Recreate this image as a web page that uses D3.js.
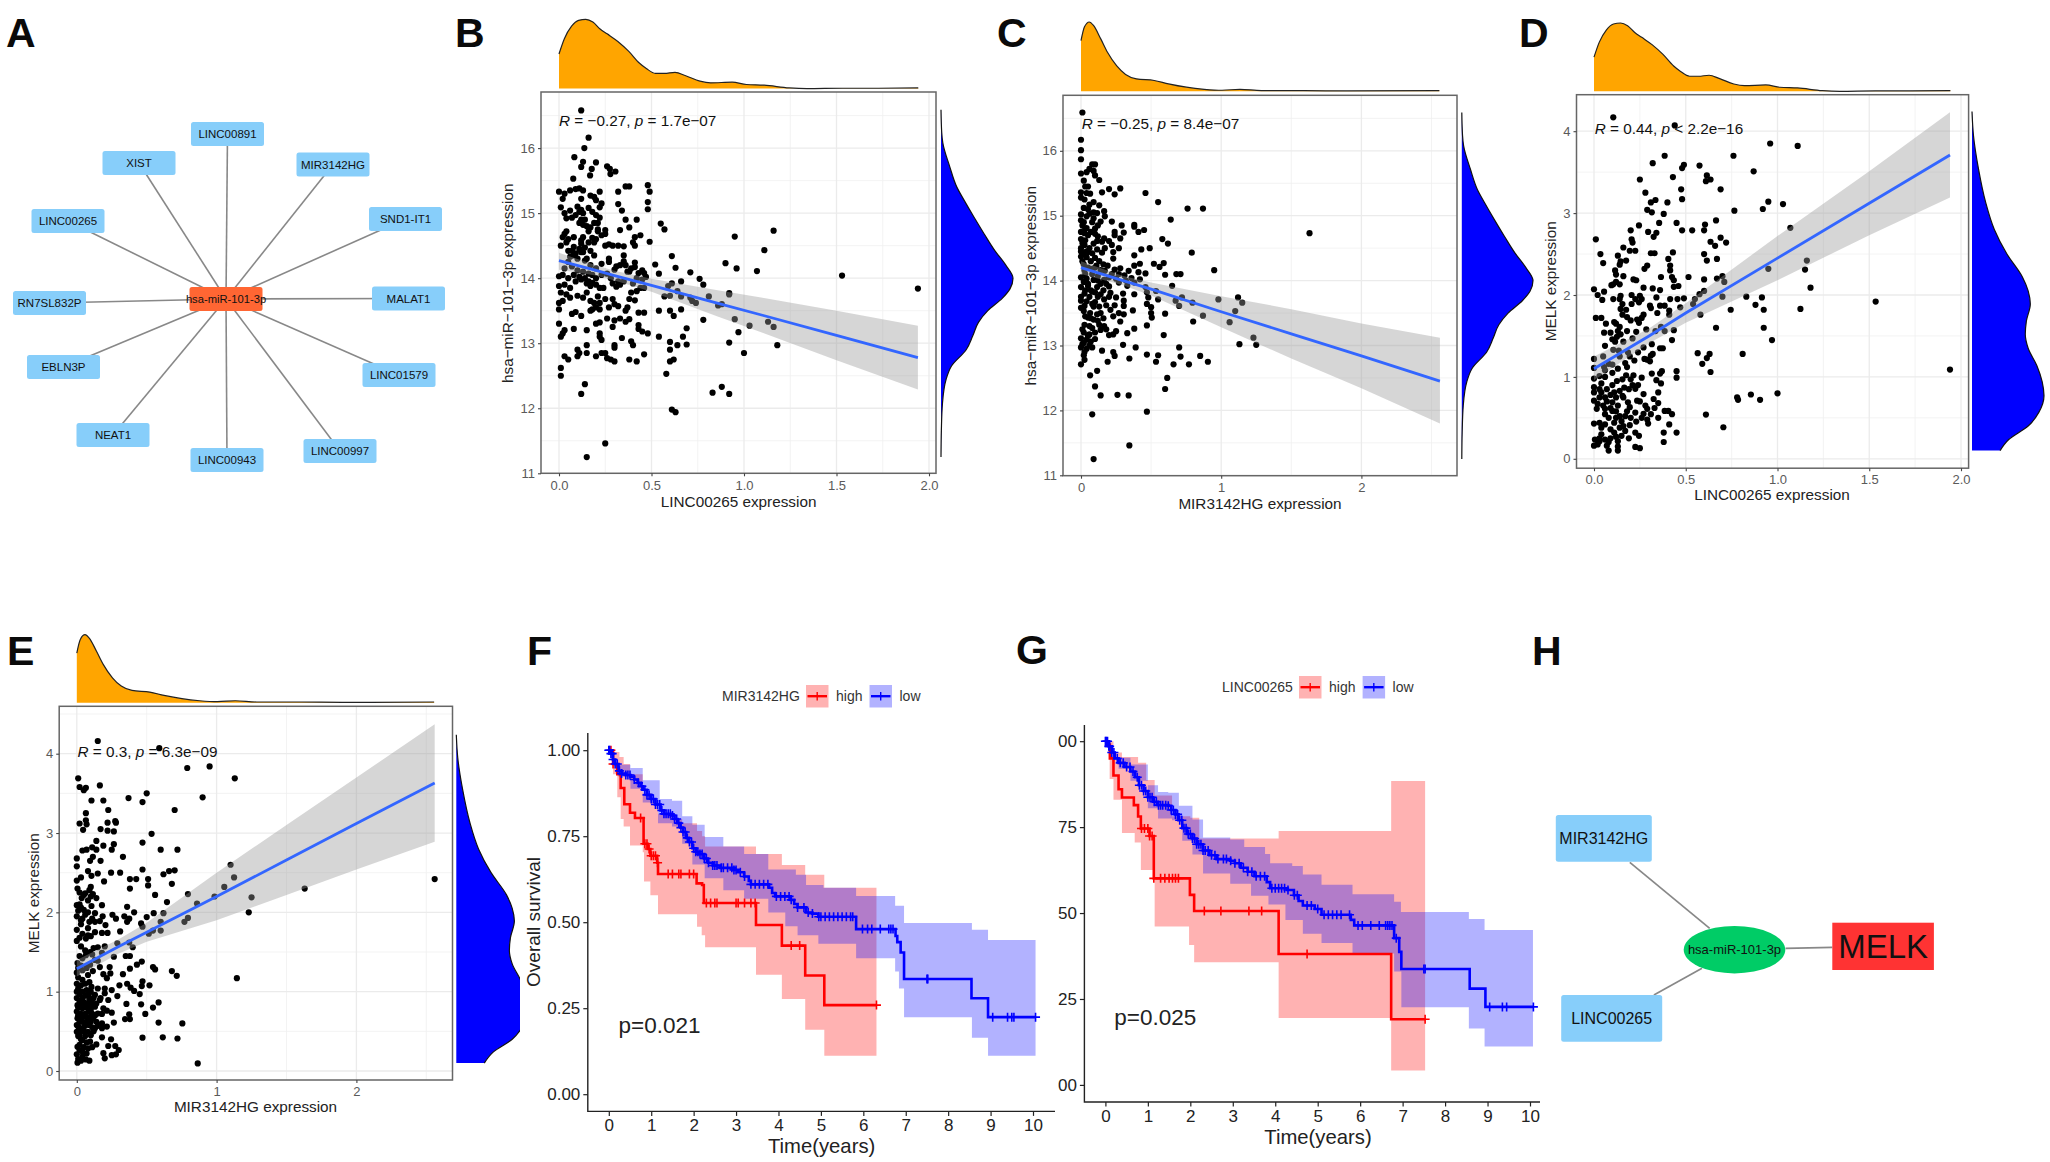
<!DOCTYPE html>
<html>
<head>
<meta charset="utf-8">
<title>hsa-miR-101-3p panels</title>
<script src="https://cdnjs.cloudflare.com/ajax/libs/d3/7.8.5/d3.min.js"></script>
<style>
	html, body { margin: 0; padding: 0; background: #fff; }
	svg { display: block; }
	text { font-family: "Liberation Sans", Arial, sans-serif; }
</style>
</head>
<body>
<script>
// scatter values, [x, y]
var pointsB = [[.12,16.58],[.16,16.16],[.137,16],[.083,15.86],[.13,15.79],[.2,15.78],[.12,15.71],[.177,15.68],[.26,15.72],[.275,15.68],[.305,15.64],[.278,15.6],[.168,15.58],[.077,15.53],[.11,15.38],[.09,15.37],[.06,15.35],[.13,15.35],[0,15.33],[.03,15.3],[.02,15.22],[.12,15.22],[.17,15.27],[.19,15.25],[.2,15.2],[.22,15.33],[.32,15.33],[.36,15.41],[.38,15.41],[.48,15.43],[.49,15.33],[.48,15.17],[.32,15.14],[.48,15.06],[.34,15.04],[.36,14.9],[.42,14.9],[.01,15.09],[.23,15.15],[.22,15.09],[.1,15.1],[.12,15.05],[.03,15],[.06,15.04],[.09,14.97],[.11,15.02],[.13,15],[.04,14.92],[.07,14.93],[.12,14.9],[.18,15.02],[.2,14.97],[.22,14.93],[.11,14.85],[.13,14.82],[.15,14.8],[.17,14.78],[.19,14.85],[.21,14.75],[.16,14.72],[.55,14.84],[.57,14.75],[.38,14.78],[.33,14.74],[.25,14.74],[.25,14.68],[.04,14.72],[.03,14.68],[.02,14.63],[.05,14.6],[.08,14.63],[.13,14.63],[.12,14.58],[.18,14.62],[.2,14.6],[.23,14.66],[.01,14.5],[.04,14.55],[.12,14.53],[.16,14.55],[.19,14.55],[.44,14.66],[.41,14.63],[.4,14.55],[.49,14.56],[.41,14.5],[.25,14.5],[.27,14.52],[.29,14.5],[.32,14.5],[.35,14.49],[.08,14.48],[.11,14.45],[.14,14.47],[.05,14.42],[.07,14.42],[.09,14.38],[.12,14.4],[.17,14.42],[.06,14.33],[.1,14.3],[.35,14.35],[.61,14.34],[.05,14.25],[.14,14.27],[.17,14.2],[.2,14.15],[.23,14.22],[.27,14.25],[.31,14.18],[.35,14.26],[.36,14.2],[.39,14.15],[.41,14.24],[.41,14.17],[.38,14.1],[.43,14.08],[.46,14.08],[.52,14.21],[.54,14.07],[.63,14.16],[.71,14.09],[.9,14.23],[.96,14.15],[1.07,14.11],[.95,14.64],[1.16,14.73],[1.11,14.43],[1.53,14.04],[1.94,13.84],[0,14.03],[.02,14.05],[.05,14],[.08,14.05],[.11,14.02],[.14,14],[.16,13.95],[.18,13.93],[.2,14],[.23,14.05],[.26,14.07],[.3,14.13],[.28,14],[.32,13.95],[.29,13.92],[.31,13.87],[.33,13.9],[.37,14.1],[.42,14],[.45,13.98],[.47,14.02],[0,13.88],[.03,13.9],[.06,13.85],[.01,13.78],[.04,13.75],[.06,13.7],[.02,13.65],[0,13.62],[.1,13.73],[.13,13.7],[.17,13.65],[.19,13.62],[.22,13.62],[.24,13.85],[.25,13.68],[.29,13.68],[.38,13.68],[.39,13.78],[.42,13.8],[.44,13.85],[.46,13.85],[.41,13.66],[0,13.52],[.18,13.52],[.2,13.55],[.22,13.52],[.27,13.55],[.3,13.6],[.32,13.57],[.36,13.5],[.37,13.55],[.43,13.47],[.46,13.47],[.07,13.45],[.09,13.48],[.12,13.42],[.26,13.38],[.3,13.35],[.33,13.38],[.36,13.33],[.38,13.37],[0,13.3],[.01,13.1],[.02,13.15],[.03,13.2],[.08,13.22],[.15,13.2],[.2,13.3],[.22,13.32],[.22,13.15],[.22,13.1],[.23,13.05],[.29,13.25],[.34,13.08],[.39,13.03],[.4,12.97],[.43,13.28],[.43,13.22],[.45,13.18],[.48,13.15],[.3,12.97],[.3,12.93],[.15,12.97],[.1,12.9],[.11,12.85],[.1,12.8],[.15,12.85],[.03,12.8],[.05,12.75],[.2,12.8],[.23,12.85],[.25,12.85],[.26,12.77],[.28,12.75],[.3,12.72],[.38,12.75],[.42,12.72],[.46,12.83],[.01,12.5],[.01,12.62],[.58,12.53],[.54,13.1],[.6,13.02],[.6,12.9],[.64,12.97],[.67,13.1],[.69,13.23],[.69,12.98],[.6,12.72],[.62,12.75],[.54,13.5],[.6,13.5],[.62,13.42],[.66,13.52],[.78,13.36],[.95,13.37],[.61,13.92],[.59,13.88],[.57,13.72],[.6,13.73],[.64,13.8],[.66,13.95],[.66,13.72],[.71,13.7],[.72,13.65],[.74,13.62],[.81,13.72],[.86,13.58],[.88,13.6],[.92,13.75],[.92,13.77],[.76,13.99],[.78,13.9],[.97,13.17],[.92,13.01],[1.03,13.27],[1.13,13.33],[1.16,13.25],[1.18,12.97],[1,12.85],[.83,12.24],[.88,12.33],[.92,12.22],[.61,11.98],[.63,11.94],[.12,12.22],[.14,12.37],[.25,11.46],[.15,11.25],[.03,14.15],[.07,14.18],[.1,14.12],[.13,14.1],[.16,14.07],[.18,14.05],[.15,13.92],[.17,13.88],[.2,13.9],[.22,13.85],[.12,13.98],[.09,13.95],[.08,14.35],[.13,14.4],[.15,14.3],[.19,14.35],[.21,14.72],[.14,14.9],[.16,15.08],[.21,14.85],[.15,13.78],[.27,14.3],[.33,14.2],[.45,14.12],[.35,13.95],[.4,13.92],[.21,13.72],[.17,13.5]];

var pointsC = [[.01,16.59],[0,16.17],[0,16.01],[0,15.87],[.08,15.79],[.1,15.79],[.06,15.72],[.04,15.67],[0,15.65],[.09,15.69],[.1,15.62],[.13,15.55],[.02,15.54],[.05,15.45],[.2,15.41],[.28,15.42],[.15,15.36],[.24,15.33],[.46,15.35],[.55,15.21],[.76,15.11],[.87,15.11],[0,15.36],[.04,15.35],[.065,15.34],[0,15.28],[.025,15.25],[.09,15.21],[.06,15.17],[.13,15.16],[.02,15.12],[.165,15.07],[0,15.02],[.06,15.03],[.115,15.04],[.04,14.99],[.09,14.96],[.17,14.99],[0,14.93],[.14,14.91],[.22,14.91],[.64,14.94],[.29,14.85],[.38,14.86],[.38,14.83],[.04,14.81],[.1,14.8],[.025,14.73],[.24,14.75],[.305,14.74],[.41,14.75],[.45,14.78],[1.63,14.73],[0,14.64],[.24,14.7],[.28,14.65],[.58,14.64],[.165,14.65],[.115,14.61],[.2,14.61],[.09,14.57],[.15,14.6],[.62,14.57],[.22,14.55],[.025,14.55],[0,14.5],[.17,14.5],[.27,14.5],[.43,14.48],[.49,14.5],[.115,14.48],[.05,14.44],[.15,14.43],[.23,14.44],[.79,14.43],[0,14.37],[.04,14.36],[.23,14.34],[.38,14.39],[.38,14.23],[.42,14.26],[.52,14.26],[.56,14.21],[.59,14.27],[.95,14.16],[.11,14.23],[.19,14.23],[.28,14.19],[.41,14.13],[.46,14.11],[.6,14.09],[.68,14.1],[.71,14.1],[.025,14.16],[.08,14.1],[.14,14.16],[.24,14.17],[.22,14.1],[.31,14.08],[.36,14.04],[.42,14.02],[0,14.05],[.04,14.03],[.09,14.01],[.165,14.01],[.27,13.97],[.38,13.97],[0,13.9],[.05,13.92],[.115,13.9],[.2,13.91],[.33,13.92],[.46,13.9],[.65,13.92],[.025,13.8],[.08,13.83],[.14,13.79],[.21,13.81],[.38,13.79],[.47,13.82],[.535,13.84],[.165,13.71],[0,13.69],[.25,13.74],[.305,13.69],[.48,13.74],[.55,13.71],[.72,13.74],[.675,13.69],[.98,13.71],[1.12,13.74],[1.15,13.66],[.795,13.66],[.7,13.61],[.025,13.61],[.08,13.64],[.13,13.6],[.305,13.61],[.47,13.64],[.5,13.59],[1.1,13.53],[.02,13.53],[.065,13.5],[.115,13.48],[.27,13.5],[.37,13.54],[.5,13.5],[.6,13.49],[.87,13.46],[.05,13.43],[.23,13.45],[.305,13.48],[.505,13.43],[.28,13.37],[.09,13.4],[1.06,13.36],[.8,13.37],[.025,13.32],[.165,13.3],[.47,13.31],[.08,13.27],[.14,13.24],[.38,13.26],[.33,13.19],[.25,13.22],[.59,13.16],[.2,13.16],[.23,13.17],[0,13.11],[.04,13.09],[1.23,13.12],[.02,13.04],[.07,13.06],[.3,13.01],[1.13,13.02],[1.25,13.01],[0,12.97],[.08,12.97],[.39,12.97],[.7,12.97],[.15,12.92],[.025,12.9],[.23,12.9],[.47,12.86],[.55,12.85],[.24,12.84],[.345,12.8],[.71,12.83],[.85,12.84],[.025,12.78],[.19,12.75],[.535,12.75],[.905,12.75],[0,12.71],[.66,12.71],[.77,12.71],[.065,12.54],[.115,12.61],[.615,12.5],[.6,12.33],[.1,12.37],[.14,12.23],[.26,12.24],[.34,12.23],[.08,11.94],[.47,11.98],[.345,11.46],[.09,11.25],[.02,14.9],[.05,14.7],[0,14.75],[.03,14.62],[.06,14.5],[0,14.45],[.07,14.3],[.02,14.25],[.1,14.2],[.03,14.1],[.12,14.07],[.05,13.95],[.18,13.95],[.02,13.98],[.07,13.85],[.12,13.75],[0,13.75],[.04,13.68],[.09,13.6],[0,13.58],[.03,13.45],[.06,13.3],[.01,13.25],[.1,13.2],[.13,13.32],[.05,13.15],[.01,14.85],[.03,14.8],[.07,14.75],[.1,14.72],[.12,14.68],[.01,14.58],[.04,14.45],[.08,14.42],[.02,14.42],[.1,14.35],[.13,14.3],[.16,14.25],[.01,14.3],[.05,14.2],[.08,14.18],[.17,14.15],[.2,14.05],[.12,14],[.14,13.95],[.25,14.03],[.03,13.85],[.1,13.82],[.16,13.85],[.2,13.75],[.06,13.75],[.1,13.67],[.18,13.62],[.14,13.5],[.07,13.42],[.12,13.38],[.16,13.42],[.02,13.2],[.06,13.17],[.1,13.1],[.18,13.25],[.01,13.02],[.04,12.95],[.02,12.85],[.06,13],[.21,13.55],[.24,13.62],[.3,13.8],[.32,14],[.27,14.1],[.34,14.15],[.12,14.85],[.08,14.9],[.05,15.1],[.09,15.05],[.03,15.45]];

var pointsD = [[.105,4.17],[.44,4.07],[.96,3.85],[1.11,3.82],[.385,3.7],[.76,3.7],[.32,3.61],[.49,3.59],[.48,3.55],[.575,3.58],[.87,3.51],[.43,3.44],[.25,3.41],[.615,3.46],[.635,3.41],[.61,3.39],[.475,3.29],[.69,3.29],[.28,3.25],[.48,3.17],[.335,3.16],[.31,3.13],[.4,3.13],[.95,3.14],[1.03,3.11],[.92,3.05],[.29,3.04],[.315,3.01],[.765,3.03],[.38,2.99],[.355,2.88],[.665,2.91],[.45,2.88],[.245,2.85],[.605,2.86],[1.07,2.82],[.2,2.79],[.48,2.79],[.535,2.79],[.6,2.79],[.295,2.77],[.34,2.76],[.325,2.71],[.69,2.7],[.01,2.68],[.205,2.68],[.21,2.64],[.635,2.65],[.72,2.64],[.66,2.6],[.16,2.58],[.31,2.51],[.33,2.51],[.43,2.52],[.195,2.54],[.225,2.54],[.035,2.5],[.13,2.48],[.6,2.5],[.405,2.44],[.67,2.44],[.615,2.42],[1.16,2.42],[.05,2.39],[.145,2.41],[.175,2.42],[.14,2.37],[.415,2.36],[.29,2.36],[.275,2.32],[.115,2.3],[.415,2.3],[.95,2.32],[1.15,2.31],[.12,2.25],[.16,2.23],[.515,2.22],[.365,2.22],[.425,2.22],[.7,2.23],[.67,2.2],[.215,2.19],[.23,2.18],[.6,2.19],[.71,2.16],[.435,2.18],[.12,2.16],[.095,2.12],[.105,2.13],[.14,2.13],[.435,2.1],[.46,2.11],[.27,2.09],[.32,2.08],[.36,2.06],[1.18,2.09],[0,2.07],[.055,2.04],[.6,2.05],[.575,2.01],[.02,2],[.145,1.99],[.205,2],[.25,1.99],[.34,1.97],[.7,1.98],[.83,1.98],[.915,1.97],[.105,1.95],[.045,1.94],[.14,1.95],[.225,1.95],[.26,1.95],[.415,1.95],[.455,1.95],[.49,1.96],[.55,1.95],[1.535,1.92],[.155,1.89],[.205,1.89],[.245,1.91],[.305,1.87],[.36,1.87],[.385,1.87],[.47,1.85],[.54,1.89],[.88,1.88],[.175,1.82],[.145,1.83],[.31,1.84],[.41,1.81],[.745,1.82],[.925,1.82],[1.125,1.83],[.155,1.76],[.41,1.76],[.58,1.76],[.18,1.73],[.345,1.78],[.27,1.76],[.01,1.72],[.04,1.72],[.2,1.69],[.235,1.7],[.26,1.72],[.245,1.66],[.11,1.67],[.12,1.65],[.065,1.65],[.665,1.6],[.925,1.6],[.14,1.61],[.365,1.61],[.13,1.56],[.18,1.56],[.285,1.58],[.335,1.56],[.385,1.56],[.435,1.57],[.055,1.54],[.09,1.54],[.145,1.52],[.23,1.55],[.125,1.49],[.21,1.47],[.1,1.46],[.115,1.43],[.16,1.43],[.425,1.45],[.315,1.4],[.97,1.45],[.06,1.38],[.27,1.36],[.36,1.35],[.375,1.35],[.105,1.33],[.135,1.32],[.565,1.29],[.81,1.28],[.185,1.3],[.32,1.28],[.63,1.28],[.05,1.25],[.14,1.25],[.195,1.25],[.31,1.26],[.615,1.23],[0,1.22],[.275,1.22],[.29,1.21],[.305,1.19],[.08,1.16],[.17,1.17],[.59,1.16],[0,1.11],[.055,1.12],[.18,1.12],[1.94,1.09],[.45,1.07],[.37,1.07],[.06,1.08],[.635,1.06],[.315,1.04],[.36,1.04],[.175,1.02],[.215,1.02],[.03,1.01],[.45,.99],[0,.98],[.06,1],[.26,.99],[.155,.97],[.2,.97],[.34,.96],[.125,.95],[.365,.92],[.04,.92],[0,.875],[.1,.9],[.225,.855],[.165,.87],[.14,.83],[0,.81],[.04,.81],[.11,.81],[.35,.81],[.27,.79],[1,.8],[.855,.785],[.03,.75],[.155,.77],[.78,.75],[.785,.72],[.905,.72],[0,.71],[.325,.73],[.07,.7],[.1,.69],[.185,.69],[.235,.71],[.13,.65],[.28,.65],[.015,.61],[.06,.61],[.195,.63],[.29,.61],[.1,.585],[.14,.52],[.225,.565],[.385,.585],[.405,.585],[.425,.545],[.61,.54],[.06,.545],[.31,.545],[.26,.5],[.29,.48],[.35,.5],[.17,.52],[.15,.46],[.23,.455],[0,.43],[.03,.44],[.11,.44],[.295,.43],[.41,.42],[.195,.41],[.04,.38],[.09,.36],[.14,.38],[.705,.385],[.17,.34],[.11,.32],[.38,.32],[.45,.32],[.225,.32],[.04,.3],[.15,.28],[.245,.28],[.005,.235],[.06,.235],[.03,.215],[.13,.215],[.38,.205],[.08,.205],[0,.16],[.02,.175],[.225,.145],[.25,.13],[.13,.15],[.08,.1],[.13,.1],[.03,.85],[.07,.85],[.09,.78],[.06,.75],[.12,.75],[.16,.75],[.02,.67],[.05,.65],[.09,.62],[.12,.58],[.18,.58],[.08,.5],[.12,.5],[.2,.5],[.06,.42],[.16,.4],[.03,.25],[.09,.25],[.12,.27],[.19,.25],[.07,.16],[.1,1.05],[.13,1.1],[.21,.9],[.19,.85],[.24,.9],[.25,.7],[.27,.55],[.33,.62],[.35,.68],[.22,1.2],[.24,1.3],[.1,1.15]];

var pointsE = [[.15,4.16],[.59,4.07],[.79,3.82],[.95,3.84],[1.13,3.69],[.01,3.69],[.02,3.58],[.065,3.57],[.05,3.54],[.165,3.6],[.5,3.5],[.37,3.44],[.47,3.39],[.9,3.45],[.105,3.41],[.19,3.41],[.225,3.29],[.7,3.29],[.065,3.25],[.065,3.16],[.275,3.15],[.02,3.12],[.07,3.11],[.22,3.13],[.28,3.13],[.045,3.04],[.17,3.05],[.22,3.03],[.265,3.02],[.535,2.99],[.14,2.9],[.47,2.88],[.19,2.84],[.265,2.86],[.11,2.82],[.04,2.78],[.07,2.79],[.25,2.79],[.14,2.79],[.6,2.79],[.72,2.79],[.33,2.7],[0,2.68],[.115,2.7],[.095,2.65],[.17,2.65],[1.1,2.6],[0,2.58],[.08,2.52],[.47,2.54],[.7,2.53],[.66,2.52],[.15,2.49],[.245,2.5],[.31,2.5],[.62,2.48],[.105,2.46],[.03,2.44],[1.125,2.44],[2.56,2.42],[.38,2.42],[.425,2.42],[.51,2.42],[0,2.4],[.195,2.39],[.68,2.36],[.51,2.34],[.38,2.3],[1.055,2.32],[1.63,2.3],[.1,2.32],[.005,2.3],[.06,2.24],[.115,2.23],[.56,2.22],[.795,2.23],[.985,2.2],[1.25,2.19],[.035,2.18],[.14,2.18],[.08,2.15],[.645,2.13],[.86,2.11],[.18,2.09],[0,2.09],[.03,2.06],[.105,2.08],[.36,2.07],[.41,2],[1.23,2],[.01,2.02],[.55,1.99],[.62,1.99],[.06,1.97],[.13,1.99],[.255,1.97],[.34,1.95],[.5,1.94],[.185,1.95],[0,1.95],[.04,1.92],[.28,1.92],[.375,1.92],[.795,1.93],[.165,1.89],[.09,1.88],[.36,1.88],[.46,1.86],[.77,1.88],[.6,1.88],[.205,1.84],[.03,1.85],[.47,1.82],[0,1.78],[.31,1.76],[.545,1.77],[.6,1.77],[.18,1.74],[.22,1.74],[.515,1.73],[.04,1.73],[.08,1.71],[0,1.64],[.065,1.67],[.29,1.61],[.375,1.62],[.03,1.57],[.15,1.56],[.2,1.57],[.4,1.56],[.095,1.5],[.18,1.49],[.35,1.45],[.38,1.45],[.065,1.46],[.265,1.44],[.04,1.42],[.15,1.39],[.465,1.38],[.43,1.34],[.005,1.36],[.095,1.34],[.235,1.31],[.38,1.29],[.545,1.31],[.56,1.28],[.68,1.26],[.165,1.31],[0,1.24],[.04,1.27],[.115,1.26],[.24,1.23],[.33,1.22],[.715,1.2],[.08,1.21],[.19,1.22],[.215,1.17],[1.145,1.17],[.04,1.15],[0,1.1],[.36,1.1],[.305,1.08],[.47,1.13],[.52,1.08],[.465,1.07],[.385,1.05],[.105,1.06],[.15,1.04],[.2,1.04],[.41,1.01],[0,1],[.04,1],[.25,1.02],[.45,.97],[.085,.96],[.13,.96],[.29,.945],[0,.92],[.04,.92],[.165,.895],[.225,.895],[.585,.865],[.105,.875],[.005,.83],[.065,.85],[.355,.845],[.46,.84],[.545,.8],[.13,.81],[.19,.79],[.04,.79],[0,.75],[.085,.75],[.215,.76],[.25,.735],[.15,.725],[.375,.715],[.49,.72],[.005,.665],[.065,.685],[.115,.665],[.345,.655],[.38,.655],[.04,.62],[.18,.6],[.265,.61],[.585,.61],[.755,.6],[0,.58],[.09,.58],[.215,.56],[.04,.54],[.13,.54],[0,.495],[.08,.495],[.18,.54],[.02,.455],[.18,.425],[.245,.4],[.47,.42],[.615,.425],[.72,.41],[.04,.39],[.095,.37],[.14,.335],[.225,.315],[.275,.315],[.3,.265],[.005,.305],[.08,.285],[0,.21],[.04,.245],[.19,.225],[.25,.2],[.28,.21],[.04,.18],[.2,.16],[.065,.145],[.09,.13],[.005,.105],[.865,.095],[.01,1.18],[.03,1.08],[.06,1.1],[.09,1.12],[.01,1.04],[.07,1.02],[.1,1],[.02,.97],[.06,.95],[.09,.9],[.12,.92],[.02,.88],[.05,.87],[.08,.83],[.11,.83],[.14,.85],[.01,.8],[.03,.82],[.07,.8],[.1,.77],[.03,.72],[.06,.72],[.11,.72],[.01,.7],[.04,.68],[.09,.68],[.13,.7],[.02,.62],[.07,.62],[.1,.62],[.14,.62],[.01,.56],[.06,.57],[.11,.55],[.15,.57],[.02,.51],[.05,.5],[.12,.5],[.01,.44],[.06,.44],[.1,.45],[.03,.4],[.07,.36],[.02,.33],[.05,.3],[.11,.3],[.02,.26],[.07,.22],[.01,.15],[.03,.13],[.2,.98],[.17,.92],[.18,.72],[.01,1.3],[.03,1.33],[.07,1.3],[.13,1.4],[.11,1.47],[.02,1.45],[.06,1.52],[.12,1.55],[.02,1.68],[.1,1.7],[.13,1.75],[.03,1.9],[.08,1.8],[.11,1.92],[.13,1.88],[.05,2.03],[.02,2.1],[.08,2],[.1,2.2],[.02,2.25],[.05,2.22],[.09,2.28]];

// fitted line and its band: x, fit, upper, lower
var fitXB = [0, .2, .3, .5, .85, 1.1, 1.5, 1.94];
var fitB = [14.27, 14.12, 14.04, 13.89, 13.62, 13.43, 13.12, 12.78];
var fitUpB = [14.39, 14.2, 14.115, 13.99, 13.82, 13.7, 13.5, 13.27];
var fitLoB = [14.13, 14.04, 13.965, 13.79, 13.42, 13.16, 12.74, 12.29];
var fitXC = [0, .3, .5, 1, 1.5, 2, 2.56];
var fitC = [14.2, 14, 13.87, 13.52, 13.18, 12.84, 12.45];
var fitUpC = [14.3, 14.07, 13.97, 13.76, 13.56, 13.34, 13.12];
var fitLoC = [14.1, 13.93, 13.77, 13.28, 12.8, 12.34, 11.8];
var fitXD = [0, .3, .5, 1, 1.5, 1.94];
var fitD = [1.1, 1.5, 1.78, 2.45, 3.12, 3.71];
var fitUpD = [1.25, 1.59, 1.9, 2.72, 3.51, 4.23];
var fitLoD = [.96, 1.41, 1.66, 2.18, 2.73, 3.19];
var fitXE = [0, .3, .5, 1, 1.5, 2, 2.56];
var fitE = [1.29, 1.57, 1.75, 2.2, 2.66, 3.12, 3.63];
var fitUpE = [1.4, 1.66, 1.87, 2.5, 3.1, 3.7, 4.37];
var fitLoE = [1.19, 1.48, 1.63, 1.9, 2.22, 2.54, 2.89];

// marginal densities, scaled so the peak is 1
var densLincX = [0, .029, .068, .106, .145, .183, .222, .26, .318, .376, .434, .472, .521, .569, .627, .685, .762, .82, .936, 1.013, 1.109, 1.244, 1.34, 1.533, 1.726, 1.942];
var densLinc = [.5, .72, .9, .985, 1, .96, .86, .79, .68, .54, .37, .29, .22, .22, .235, .185, .107, .083, .093, .059, .049, .01, 0, .005, .005, .01];
var densMirX = [0, .025, .059, .089, .14, .19, .255, .318, .395, .522, .624, .752, .879, 1.006, 1.134, 1.287, 1.59, 1.9, 2.556];
var densMir = [.73, .93, 1, .95, .76, .56, .366, .244, .18, .156, .107, .059, .029, .015, .029, .01, .01, .005, .01];
var densMiRY = [16.59, 16.24, 16.08, 15.72, 15.4, 15.2, 14.94, 14.68, 14.42, 14.2, 14, 13.84, 13.69, 13.5, 13.32, 13.11, 12.9, 12.65, 12.44, 12.07, 11.66, 11.25];
var densMiR = [0, .01, .025, .12, .22, .32, .457, .6, .75, .9, 1, .96, .85, .65, .52, .44, .35, .146, .07, .02, .005, 0];
var densMelkY = [4.24, 3.95, 3.54, 3.13, 2.8, 2.5, 2.22, 2.05, 1.89, 1.68, 1.52, 1.35, 1.14, .94, .77, .57, .4, .235, .1];
var densMelk = [0, .02, .09, .19, .31, .485, .7, .78, .81, .755, .74, .78, .9, .975, 1, .93, .78, .51, .39];

// survival curves, [time, survival], each value holds until the next time
var kmHighF = [[0,1],[.1,.96],[.2,.93],[.28,.89],[.365,.843],[.5,.818],[.617,.803],[.82,.728],[.92,.713],[.98,.693],[1.14,.673],[1.16,.64],[2.07,.613],[2.2,.608],[2.24,.556],[3.47,.492],[4.08,.432],[4.63,.345],[5.08,.259],[6.31,.259]];
var kmHighUpF = [[0,1],[.1,.995],[.25,.98],[.35,.96],[.5,.93],[.8,.875],[1,.85],[1.16,.815],[1.5,.8],[1.73,.788],[2.08,.765],[2.2,.75],[2.27,.72],[3.47,.698],[4.08,.666],[4.63,.638],[5.08,.6],[6.31,.6]];
var kmHighLoF = [[0,1],[.1,.93],[.2,.863],[.28,.8],[.35,.778],[.5,.723],[.8,.703],[.83,.618],[.98,.578],[1.16,.523],[2.08,.487],[2.19,.462],[2.27,.427],[3.47,.347],[4.08,.277],[4.63,.187],[5.08,.112],[6.31,.112]];
var kmLowF = [[0,1],[.05,.99],[.1,.973],[.15,.96],[.23,.94],[.3,.932],[.4,.928],[.51,.923],[.6,.915],[.68,.905],[.75,.895],[.8,.885],[.9,.87],[1,.858],[1.1,.842],[1.22,.825],[1.3,.815],[1.49,.81],[1.55,.8],[1.62,.788],[1.69,.775],[1.75,.762],[1.82,.745],[1.89,.733],[1.97,.715],[2.05,.705],[2.13,.698],[2.25,.685],[2.34,.673],[2.45,.665],[2.62,.658],[2.95,.652],[3.05,.645],[3.19,.633],[3.3,.62],[3.35,.61],[3.78,.6],[3.85,.585],[3.92,.575],[4.29,.565],[4.37,.553],[4.45,.543],[4.65,.528],[4.8,.525],[4.94,.516],[5.83,.48],[6.76,.46],[6.8,.442],[6.88,.412],[6.96,.335],[8.55,.279],[8.94,.224],[10.06,.224]];
var kmLowUpF = [[0,1],[.23,.958],[.51,.948],[.8,.913],[1.2,.858],[1.49,.853],[1.73,.808],[1.97,.783],[2.26,.748],[2.7,.72],[3.19,.698],[3.76,.653],[4.41,.638],[4.65,.608],[5.06,.6],[5.83,.576],[6.75,.548],[6.96,.498],[8.56,.478],[8.94,.448],[10.06,.448]];
var kmLowLoF = [[0,1],[.23,.923],[.51,.888],[.8,.848],[1.16,.788],[1.49,.778],[1.73,.728],[1.97,.668],[2.26,.628],[2.7,.593],[3.19,.568],[3.76,.528],[4.16,.488],[4.45,.462],[4.94,.437],[5.83,.395],[6.75,.357],[6.84,.307],[6.96,.224],[8.56,.164],[8.94,.112],[10.06,.112]];
var censorHighF = [.05, .1, .75, .85, .9, .95, 1, 1.05, 1.1, 1.15, 1.4, 1.5, 1.65, 1.7, 1.9, 2, 2.3, 2.4, 2.5, 2.55, 3, 3.05, 3.2, 3.35, 3.45, 4.3, 4.5, 6.31];
var censorLowF = [0, .02, .05, .08, .1, .15, .2, .25, .3, .4, .45, .5, .6, .7, .78, .85, .9, .95, 1, 1.05, 1.1, 1.15, 1.2, 1.25, 1.3, 1.35, 1.4, 1.45, 1.5, 1.55, 1.6, 1.65, 1.7, 1.75, 1.8, 1.85, 1.9, 1.95, 2, 2.05, 2.1, 2.15, 2.2, 2.25, 2.3, 2.35, 2.45, 2.5, 2.55, 2.65, 2.7, 2.8, 2.9, 2.95, 3, 3.1, 3.2, 3.35, 3.45, 3.55, 3.65, 3.75, 3.95, 4.05, 4.15, 4.25, 4.3, 4.45, 4.6, 4.7, 4.8, 4.95, 5, 5.1, 5.2, 5.3, 5.4, 5.5, 5.6, 5.7, 5.75, 5.98, 6.1, 6.2, 6.4, 6.6, 6.65, 6.7, 7.5, 7.52, 9.05, 9.4, 9.5, 9.55, 10.06];

var kmHighG = [[0,.99],[.105,.95],[.19,.9],[.31,.86],[.39,.836],[.67,.814],[.77,.781],[.835,.746],[1.04,.724],[1.14,.601],[1.99,.553],[2.09,.506],[4.08,.381],[6.73,.191],[7.53,.191]];
var kmHighUpG = [[0,1],[.19,.967],[.39,.954],[.77,.937],[.96,.887],[1.16,.842],[1.57,.782],[2,.777],[2.21,.717],[4.08,.739],[6.73,.884],[7.53,.884]];
var kmHighLoG = [[0,1],[.1,.89],[.19,.83],[.39,.733],[.69,.705],[.835,.625],[1.16,.461],[1.97,.407],[2.09,.357],[4.08,.195],[6.73,.042],[7.53,.042]];
var kmLowG = [[0,1],[.08,.985],[.15,.967],[.22,.95],[.31,.937],[.45,.925],[.59,.912],[.7,.895],[.79,.872],[.9,.855],[1,.837],[1.12,.824],[1.24,.814],[1.48,.812],[1.55,.8],[1.65,.787],[1.72,.77],[1.81,.747],[1.92,.73],[2.05,.717],[2.15,.7],[2.3,.682],[2.45,.668],[2.62,.657],[2.94,.652],[3.05,.645],[3.19,.632],[3.35,.62],[3.51,.607],[3.8,.59],[3.88,.572],[4.28,.567],[4.44,.552],[4.55,.535],[4.65,.522],[4.93,.512],[5.09,.495],[5.78,.48],[5.86,.464],[6.8,.427],[6.92,.387],[6.97,.337],[8.58,.28],[8.95,.227],[10.08,.227]];
var kmLowUpG = [[0,1],[.31,.952],[.59,.932],[1,.872],[1.24,.852],[1.48,.85],[1.73,.812],[2.05,.772],[2.3,.72],[2.94,.714],[3.27,.692],[3.76,.672],[3.88,.645],[4.4,.637],[4.65,.612],[5.09,.582],[5.82,.555],[6.8,.533],[6.96,.503],[8.56,.483],[8.93,.451],[10.07,.451]];
var kmLowLoG = [[0,1],[.31,.92],[.59,.885],[1,.805],[1.24,.775],[1.57,.77],[1.81,.71],[2.05,.67],[2.3,.615],[2.94,.585],[3.43,.55],[3.84,.525],[4.24,.48],[4.65,.44],[5.09,.413],[5.82,.382],[6.8,.33],[6.97,.226],[8.56,.164],[8.93,.112],[10.07,.112]];
var censorHighG = [.85, .92, 1, 1.04, 1.1, 1.14, 1.3, 1.4, 1.5, 1.58, 1.65, 1.72, 2.33, 2.72, 3.38, 3.68, 4.75, 7.53];
var censorLowG = [0, .02, .05, .08, .1, .15, .2, .28, .35, .42, .5, .58, .65, .75, .8, .85, .9, .95, 1, 1.05, 1.1, 1.15, 1.2, 1.25, 1.3, 1.35, 1.42, 1.48, 1.55, 1.6, 1.65, 1.7, 1.75, 1.8, 1.85, 1.9, 1.95, 2, 2.05, 2.1, 2.15, 2.2, 2.25, 2.3, 2.35, 2.42, 2.5, 2.58, 2.65, 2.78, 2.85, 2.95, 3.05, 3.15, 3.25, 3.35, 3.45, 3.55, 3.65, 3.75, 3.92, 4, 4.08, 4.15, 4.22, 4.3, 4.45, 4.52, 4.75, 4.85, 5, 5.15, 5.25, 5.35, 5.45, 5.55, 5.75, 5.95, 6.05, 6.25, 6.45, 6.6, 6.65, 6.7, 6.75, 6.85, 7.5, 7.53, 9.05, 9.35, 9.45, 10.08];

var xTicksLinc = [0, .5, 1, 1.5, 2];
var xTicksMir = [0, 1, 2];
var yTicksMiR = [11, 12, 13, 14, 15, 16];
var yTicksMelk = [0, 1, 2, 3, 4];
var kmTimes = [0, 1, 2, 3, 4, 5, 6, 7, 8, 9, 10];
var kmTicks = [0, .25, .5, .75, 1];
var kmLabelsF = ['0.00', '0.25', '0.50', '0.75', '1.00'];
var kmLabelsG = ['00', '25', '50', '75', '00'];

var hubName = 'hsa-miR-101-3p';
var starNames = ['LINC00891', 'XIST', 'MIR3142HG', 'SND1-IT1', 'LINC00265', 'MALAT1', 'RN7SL832P', 'LINC01579', 'EBLN3P', 'LINC00997', 'NEAT1', 'LINC00943'];

var svg = d3.select('body').append('svg').attr('width', 2050).attr('height', 1162);

// panel letters
var letters = [['A', 6, 46.7], ['B', 455, 46.7], ['C', 997, 46.7], ['D', 1519, 46.7], ['E', 7, 665], ['F', 527, 665], ['G', 1016, 664], ['H', 1532, 664.5]];
svg.selectAll('.letter').data(letters).enter().append('text')
	.attr('class', 'letter').attr('x', d => d[1]).attr('y', d => d[2])
	.attr('font-size', 41).attr('font-weight', 'bold').attr('fill', '#0a0a0a').text(d => d[0]);

// A: star network
var starPos = [[227.5, 134], [139, 163], [333, 164.5], [405.5, 219], [68, 221], [408.5, 298.5], [49.5, 303], [399, 375], [63.5, 367], [340, 451], [113, 435], [227, 460]];
var hubPos = [226, 299];
var gA = svg.append('g');
gA.selectAll('line').data(starNames).enter().append('line')
	.attr('x1', hubPos[0]).attr('y1', hubPos[1])
	.attr('x2', (d, i) => starPos[i][0]).attr('y2', (d, i) => starPos[i][1])
	.attr('stroke', '#888').attr('stroke-width', 1.6);
function netBox(g, name, cx, cy, w, h, fill, size){
	g.append('rect').attr('x', cx - w / 2).attr('y', cy - h / 2).attr('width', w).attr('height', h)
		.attr('rx', 2.5).attr('fill', fill);
	g.append('text').attr('x', cx).attr('y', cy + size * .35).attr('text-anchor', 'middle')
		.attr('font-size', size).attr('fill', '#111').text(name);
}
starNames.forEach(function(d, i){
	netBox(gA, d, starPos[i][0], starPos[i][1], 73, 24, '#87CEFA', 11.5);
});
netBox(gA, hubName, hubPos[0], hubPos[1], 73, 24, '#FF6633', 11.2);

// B-E: scatter with marginal densities
function scatterPanel(o){
	var g = svg.append('g');
	var x = d3.scaleLinear().domain(o.xDomain).range(o.xRange);
	var y = d3.scaleLinear().domain(o.yDomain).range(o.yRange);
	var f = o.frame;

	// grid, minor lines halfway between the major ones
	var xStep = o.xTicks[1] - o.xTicks[0], yStep = o.yTicks[1] - o.yTicks[0];
	var xMinor = o.xTicks.map(d => d + xStep / 2).filter(d => x(d) < f[1]);
	var yMinor = o.yTicks.map(d => d + yStep / 2).filter(d => y(d) > f[2]);
	g.selectAll('.mx').data(xMinor).enter().append('line').attr('x1', x).attr('x2', x).attr('y1', f[2]).attr('y2', f[3]).attr('stroke', '#f0f0f0').attr('stroke-width', .8);
	g.selectAll('.my').data(yMinor).enter().append('line').attr('y1', y).attr('y2', y).attr('x1', f[0]).attr('x2', f[1]).attr('stroke', '#f0f0f0').attr('stroke-width', .8);
	g.selectAll('.gx').data(o.xTicks).enter().append('line').attr('x1', x).attr('x2', x).attr('y1', f[2]).attr('y2', f[3]).attr('stroke', '#ebebeb').attr('stroke-width', 1.3);
	g.selectAll('.gy').data(o.yTicks).enter().append('line').attr('y1', y).attr('y2', y).attr('x1', f[0]).attr('x2', f[1]).attr('stroke', '#ebebeb').attr('stroke-width', 1.3);

	g.append('g').selectAll('circle').data(o.points).enter().append('circle')
		.attr('cx', d => x(d[0])).attr('cy', d => y(d[1])).attr('r', 3.1).attr('fill', '#000');

	// band sits above the points, as it greys them in the picture
	var band = d3.area().x((d, i) => x(o.fitX[i])).y0((d, i) => y(o.fitLo[i])).y1(d => y(d));
	g.append('path').attr('d', band(o.fitUp)).attr('fill', '#999').attr('opacity', .4);
	var fit = d3.line().x((d, i) => x(o.fitX[i])).y(d => y(d));
	g.append('path').attr('d', fit(o.fit)).attr('fill', 'none').attr('stroke', '#3366FF').attr('stroke-width', 2.8);

	g.append('rect').attr('x', f[0]).attr('y', f[2]).attr('width', f[1] - f[0]).attr('height', f[3] - f[2])
		.attr('fill', 'none').attr('stroke', '#666').attr('stroke-width', 1.5);

	var xAxis = d3.axisBottom(x).tickValues(o.xTicks).tickFormat(d3.format(o.xFormat)).tickSize(3).tickPadding(4);
	var yAxis = d3.axisLeft(y).tickValues(o.yTicks).tickFormat(d3.format('d')).tickSize(3).tickPadding(3);
	var ax = g.append('g').attr('transform', 'translate(0,' + f[3] + ')').call(xAxis);
	var ay = g.append('g').attr('transform', 'translate(' + f[0] + ',0)').call(yAxis);
	[ax, ay].forEach(function(a){
		a.select('.domain').remove();
		a.selectAll('line').attr('stroke', '#444').attr('stroke-width', 1.1);
		a.selectAll('text').attr('fill', '#5a5a5a').attr('font-size', 13).attr('font-family', '"Liberation Sans", Arial, sans-serif');
	});

	g.append('text').attr('x', o.xTitle[0]).attr('y', o.xTitle[1]).attr('text-anchor', 'middle').attr('font-size', 15.3).attr('fill', '#222').text(o.xLabel);
	g.append('text').attr('transform', 'translate(' + o.yTitle[0] + ',' + o.yTitle[1] + ') rotate(-90)').attr('text-anchor', 'middle').attr('font-size', 15.3).attr('fill', '#222').text(o.yLabel);

	var note = g.append('text').attr('x', o.note[0]).attr('y', o.note[1]).attr('font-size', 15.3).attr('fill', '#111');
	note.append('tspan').attr('font-style', 'italic').text('R');
	note.append('tspan').text(' = ' + o.r + ', ');
	note.append('tspan').attr('font-style', 'italic').text('p');
	note.append('tspan').text(' ' + o.p);

	// top density
	var topY = d3.scaleLinear().domain([0, 1]).range(o.topRange);
	var topArea = d3.area().x((d, i) => x(o.topX[i])).y0(topY(0)).y1(d => topY(d)).curve(d3.curveMonotoneX);
	var topLine = d3.line().x((d, i) => x(o.topX[i])).y(d => topY(d)).curve(d3.curveMonotoneX);
	g.append('path').attr('d', topArea(o.topD)).attr('fill', '#FFA500');
	g.append('path').attr('d', topLine(o.topD)).attr('fill', 'none').attr('stroke', '#222').attr('stroke-width', 1.2);

	// right density, E loses its tip under panel F
	var sideX = d3.scaleLinear().domain([0, 1]).range(o.sideRange);
	var sideArea = d3.area().y((d, i) => y(o.sideY[i])).x0(sideX(0)).x1(d => sideX(d)).curve(d3.curveMonotoneY);
	var sideLine = d3.line().y((d, i) => y(o.sideY[i])).x(d => sideX(d)).curve(d3.curveMonotoneY);
	var side = g.append('g');
	if(o.sideClip){
		svg.append('clipPath').attr('id', 'sideClip').append('rect').attr('x', o.sideRange[0] - 3).attr('y', f[2]).attr('width', o.sideClip - o.sideRange[0] + 3).attr('height', f[3] - f[2]);
		side.attr('clip-path', 'url(#sideClip)');
	}
	side.append('path').attr('d', sideArea(o.sideD)).attr('fill', '#0000FF');
	side.append('path').attr('d', sideLine(o.sideD)).attr('fill', 'none').attr('stroke', '#111').attr('stroke-width', 1.2);
}

scatterPanel({
	points: pointsB, fitX: fitXB, fit: fitB, fitUp: fitUpB, fitLo: fitLoB,
	xDomain: [0, 2], xRange: [559, 929], yDomain: [11, 16], yRange: [473.3, 148.1],
	frame: [541, 936, 92, 473.3], xTicks: xTicksLinc, yTicks: yTicksMiR, xFormat: '.1f',
	xLabel: 'LINC00265 expression', yLabel: 'hsa\u2212miR\u2212101\u22123p expression',
	xTitle: [738.6, 507], yTitle: [513, 283.3], note: [559, 126], r: '\u22120.27', p: '= 1.7e\u221207',
	topX: densLincX, topD: densLinc, topRange: [88.6, 19.3],
	sideY: densMiRY, sideD: densMiR, sideRange: [941, 1013]
});
scatterPanel({
	points: pointsC, fitX: fitXC, fit: fitC, fitUp: fitUpC, fitLo: fitLoC,
	xDomain: [0, 2], xRange: [1081, 1361.4], yDomain: [11, 16], yRange: [475.3, 150.8],
	frame: [1063, 1457, 95.3, 475.7], xTicks: xTicksMir, yTicks: yTicksMiR, xFormat: 'd',
	xLabel: 'MIR3142HG expression', yLabel: 'hsa\u2212miR\u2212101\u22123p expression',
	xTitle: [1260, 508.8], yTitle: [1036, 285.7], note: [1081.8, 128.8], r: '\u22120.25', p: '= 8.4e\u221207',
	topX: densMirX, topD: densMir, topRange: [91.3, 22],
	sideY: densMiRY, sideD: densMiR, sideRange: [1461.8, 1533]
});
scatterPanel({
	points: pointsD, fitX: fitXD, fit: fitD, fitUp: fitUpD, fitLo: fitLoD,
	xDomain: [0, 2], xRange: [1594, 1961], yDomain: [0, 4], yRange: [458.8, 131.2],
	frame: [1576.5, 1968.6, 94.7, 468.2], xTicks: xTicksLinc, yTicks: yTicksMelk, xFormat: '.1f',
	xLabel: 'LINC00265 expression', yLabel: 'MELK expression',
	xTitle: [1772, 499.7], yTitle: [1556, 281.3], note: [1594.7, 133.5], r: '0.44', p: '< 2.2e\u221216',
	topX: densLincX, topD: densLinc, topRange: [91.3, 23],
	sideY: densMelkY, sideD: densMelk, sideRange: [1972, 2044]
});
scatterPanel({
	points: pointsE, fitX: fitXE, fit: fitE, fitUp: fitUpE, fitLo: fitLoE,
	xDomain: [0, 2], xRange: [76.8, 356.4], yDomain: [0, 4], yRange: [1071, 753.7],
	frame: [59.2, 452.5, 706.3, 1080], xTicks: xTicksMir, yTicks: yTicksMelk, xFormat: 'd',
	xLabel: 'MIR3142HG expression', yLabel: 'MELK expression',
	xTitle: [255.5, 1112.3], yTitle: [38.5, 893.3], note: [77.5, 756.7], r: '0.3', p: '= 6.3e\u221209',
	topX: densMirX, topD: densMir, topRange: [702.7, 634.7],
	sideY: densMelkY, sideD: densMelk, sideRange: [456.3, 528], sideClip: 520
});

// F, G: survival curves
function stepAt(list, t){
	var i = d3.bisector(d => d[0]).right(list, t) - 1;
	return list[Math.max(i, 0)][1];
}
function kmPanel(o){
	var g = svg.append('g');
	var x = d3.scaleLinear().domain([0, 10]).range(o.xRange);
	var y = d3.scaleLinear().domain([0, 1]).range(o.yRange);
	var a = o.axisBox;

	function drawBand(up, lo, color){
		var times = Array.from(new Set(up.concat(lo).map(d => d[0]))).sort(d3.ascending);
		var area = d3.area().curve(d3.curveStepAfter).x(d => x(d)).y0(d => y(stepAt(lo, d))).y1(d => y(stepAt(up, d)));
		g.append('path').attr('d', area(times)).attr('fill', color).attr('opacity', .3);
	}
	function drawCurve(curve, censor, color){
		var line = d3.line().curve(d3.curveStepAfter).x(d => x(d[0])).y(d => y(d[1]));
		g.append('path').attr('d', line(curve)).attr('fill', 'none').attr('stroke', color).attr('stroke-width', 2.6);
		g.append('g').selectAll('path').data(censor).enter().append('path')
			.attr('transform', d => 'translate(' + x(d) + ',' + y(stepAt(curve, d)) + ')')
			.attr('d', 'M-4.5,0H4.5M0,-4.5V4.5').attr('fill', 'none').attr('stroke', color).attr('stroke-width', 1.6);
	}
	// red first, the overlap reads as blue laid over red
	drawBand(o.highUp, o.highLo, '#FF0000');
	drawBand(o.lowUp, o.lowLo, '#0000FF');
	drawCurve(o.high, o.censorHigh, '#FF0000');
	drawCurve(o.low, o.censorLow, '#0000FF');

	var xAxis = d3.axisBottom(x).tickValues(kmTimes).tickFormat(d3.format('d')).tickSize(4.5).tickPadding(3);
	var yAxis = d3.axisLeft(y).tickValues(kmTicks).tickFormat((d, i) => o.yLabels[i]).tickSize(4.5).tickPadding(3);
	var ax = g.append('g').attr('transform', 'translate(0,' + a[3] + ')').call(xAxis);
	var ay = g.append('g').attr('transform', 'translate(' + a[0] + ',0)').call(yAxis);
	[ax, ay].forEach(function(s){
		s.select('.domain').remove();
		s.selectAll('line').attr('stroke', '#222').attr('stroke-width', 1.2);
		s.selectAll('text').attr('fill', '#222').attr('font-size', 17).attr('font-family', '"Liberation Sans", Arial, sans-serif');
	});
	g.append('path').attr('d', 'M' + a[0] + ',' + a[2] + 'V' + a[3] + 'H' + a[1]).attr('fill', 'none').attr('stroke', '#222').attr('stroke-width', 1.4);

	g.append('text').attr('x', o.xTitle[0]).attr('y', o.xTitle[1]).attr('text-anchor', 'middle').attr('font-size', 20.3).attr('fill', '#222').text('Time(years)');
	if(o.yTitle){
		g.append('text').attr('transform', 'translate(' + o.yTitle[0] + ',' + o.yTitle[1] + ') rotate(-90)').attr('text-anchor', 'middle').attr('font-size', 19).attr('fill', '#222').text('Overall survival');
	}
	g.append('text').attr('x', o.pText[0]).attr('y', o.pText[1]).attr('font-size', 22.5).attr('fill', '#222').text(o.pValue);

	// legend
	var l = o.legend;
	g.append('text').attr('x', l.x).attr('y', l.y + 16).attr('font-size', 14).attr('fill', '#333').text(l.title);
	[[l.highX, '#FF0000', 'high'], [l.lowX, '#0000FF', 'low']].forEach(function(k){
		g.append('rect').attr('x', k[0]).attr('y', l.y).attr('width', 22.5).attr('height', 22.5).attr('fill', k[1]).attr('opacity', .3);
		g.append('path').attr('d', 'M' + (k[0] + 1.5) + ',' + (l.y + 11.2) + 'h19.5').attr('stroke', k[1]).attr('stroke-width', 2.4);
		g.append('path').attr('d', 'M' + (k[0] + 11.2) + ',' + (l.y + 7) + 'v8.5').attr('stroke', k[1]).attr('stroke-width', 1.4);
		g.append('text').attr('x', k[0] + 30).attr('y', l.y + 16).attr('font-size', 14).attr('fill', '#333').text(k[2]);
	});
}

kmPanel({
	high: kmHighF, highUp: kmHighUpF, highLo: kmHighLoF, censorHigh: censorHighF,
	low: kmLowF, lowUp: kmLowUpF, lowLo: kmLowLoF, censorLow: censorLowF,
	xRange: [608.8, 1033], yRange: [1094.2, 750.2], axisBox: [587.8, 1055, 733, 1111.4], yLabels: kmLabelsF,
	xTitle: [821.6, 1153], yTitle: [540, 922], pText: [618.5, 1033], pValue: 'p=0.021',
	legend: { title: 'MIR3142HG', x: 722, y: 685, highX: 806, lowX: 869.5 }
});
kmPanel({
	high: kmHighG, highUp: kmHighUpG, highLo: kmHighLoG, censorHigh: censorHighG,
	low: kmLowG, lowUp: kmLowUpG, lowLo: kmLowLoG, censorLow: censorLowG,
	xRange: [1105.4, 1530], yRange: [1084.9, 741.2], axisBox: [1084.4, 1540, 725, 1102], yLabels: kmLabelsG,
	xTitle: [1318, 1144], pText: [1114.3, 1024.6], pValue: 'p=0.025',
	legend: { title: 'LINC00265', x: 1222, y: 676, highX: 1299, lowX: 1362.6 }
});

// H: small network
var gH = svg.append('g');
var hEdges = [[1629.8, 862.3, 1709.7, 928.3], [1653.9, 995, 1702, 968.3], [1785.5, 948.3, 1832.3, 947.3]];
gH.selectAll('line').data(hEdges).enter().append('line')
	.attr('x1', d => d[0]).attr('y1', d => d[1]).attr('x2', d => d[2]).attr('y2', d => d[3])
	.attr('stroke', '#888').attr('stroke-width', 1.7);
netBox(gH, 'MIR3142HG', 1603.8, 838.3, 96, 46.7, '#87CEFA', 16);
netBox(gH, 'LINC00265', 1611.7, 1018.3, 101, 46.7, '#87CEFA', 16);
gH.append('ellipse').attr('cx', 1734.5).attr('cy', 949.7).attr('rx', 50.8).attr('ry', 23.7).attr('fill', '#00CC66');
gH.append('text').attr('x', 1734.5).attr('y', 954).attr('text-anchor', 'middle').attr('font-size', 13).attr('fill', '#111').text(hubName);
gH.append('rect').attr('x', 1832.3).attr('y', 922.7).attr('width', 101.6).attr('height', 47.3).attr('fill', '#FF3333');
gH.append('text').attr('x', 1883.1).attr('y', 958).attr('text-anchor', 'middle').attr('font-size', 33).attr('fill', '#111').text('MELK');
</script>
</body>
</html>
